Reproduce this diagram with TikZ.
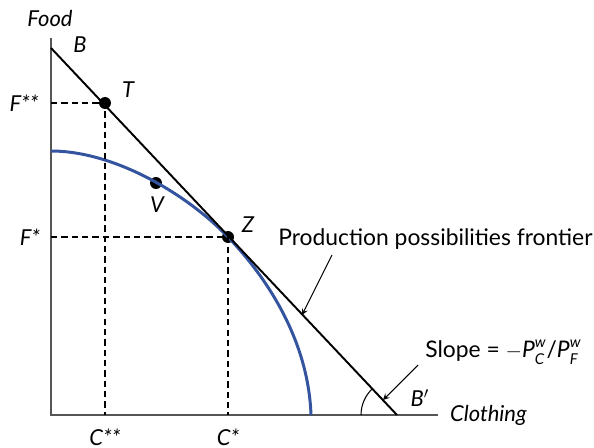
\documentclass[tikz,border=0pt]{standalone}
\usepackage{amsmath}
\usepackage{fontspec}
\setmainfont{Lato}
\usepackage{tikz}
\usetikzlibrary{calc}

\definecolor{ppfblue}{RGB}{52,84,160}
\definecolor{axisgray}{RGB}{85,85,85}

\newcommand{\wsup}{^{\raisebox{1.5pt}{\fontsize{8.5}{9}\selectfont\itshape w}}}
\newcommand{\gsub}[1]{_{\raisebox{-1pt}{\fontsize{8.5}{9}\selectfont\itshape #1}}}

\begin{document}
\begin{tikzpicture}[x=0.02cm, y=0.02cm,
    dot/.style={circle, fill=black, inner sep=0, minimum size=0.24cm},
    lbl/.style={font=\itshape\fontsize{12.5}{14}\selectfont, inner sep=1pt},
    txt/.style={font=\fontsize{13}{15}\selectfont, inner sep=0pt},
    guide/.style={dash pattern=on 3.6pt off 2.3pt, line width=0.6pt},
    pointer/.style={line width=0.6pt, -stealth}]
  \useasboundingbox (-51,-32) rectangle (543,415);

  % axes
  \coordinate (O) at (0,0);
  \coordinate (ytop) at (0,377);
  \coordinate (xend) at (387,0);
  \draw[axisgray, line width=0.9pt] (ytop)--(O)--(xend);
  \node[lbl] (food) at (-1,397) {Food};
  \node[lbl, anchor=west] (cloth) at (397,0) {Clothing};

  % budget line and frontier
  \coordinate (B) at (0,367);
  \coordinate (Bp) at (346,0);
  \coordinate (ppf0) at (0,264);
  \coordinate (ppf1) at (260,0);
  \node[dot] (Z) at (177,178) {};
  \node[dot] (T) at (54,312) {};
  \node[dot] (V) at (105,232) {};

  \draw[ppfblue, line width=1.7pt] (ppf0) .. controls (64,264) and (137,220) .. (Z.center)
    .. controls (204,150) and (257,85) .. (ppf1);
  \draw[line width=1.1pt] (B)--(Bp);
  \draw[line width=0.6pt] ($(Bp)+(-36,0)$) arc[start angle=180, end angle=133.3, radius=36];

  % dashed guides
  \coordinate (Fss) at (0,312);
  \coordinate (Css) at (54,0);
  \coordinate (Fs) at (0,178);
  \coordinate (Cs) at (177,0);
  \draw[guide] (Fss)--(T.center)--(Css);
  \draw[guide] (Fs)--(Z.center)--(Cs);

  \node[lbl] (lB) at (29,370) {B};
  \node[lbl] (lT) at (77,325) {T};
  \node[lbl] (lV) at (106,210) {V};
  \node[lbl] (lZ) at (197,190) {Z};
  \node[lbl] (lBp) at (369,17) {B$'$};
  \node[lbl] (lFss) at (-27,312) {F**};
  \node[lbl] (lFs) at (-21,178) {F*};
  \node[lbl] (lCss) at (54,-22) {C**};
  \node[lbl] (lCs) at (177,-22) {C*};

  % callouts
  \node[txt, anchor=west] (ppftext) at (227,176) {Production possibilities frontier};
  \coordinate (ppftip) at (251,100);
  \draw[pointer] (281,160)--(ppftip);
  \node[txt, anchor=west] (slope) at (374,63)
    {Slope = $-$\textit{P}$\wsup\gsub{C}$/\textit{P}$\wsup\gsub{F}$};
  \coordinate (slopetip) at (332,15);
  \draw[pointer] (367,50)--(slopetip);
\end{tikzpicture}
\end{document}
